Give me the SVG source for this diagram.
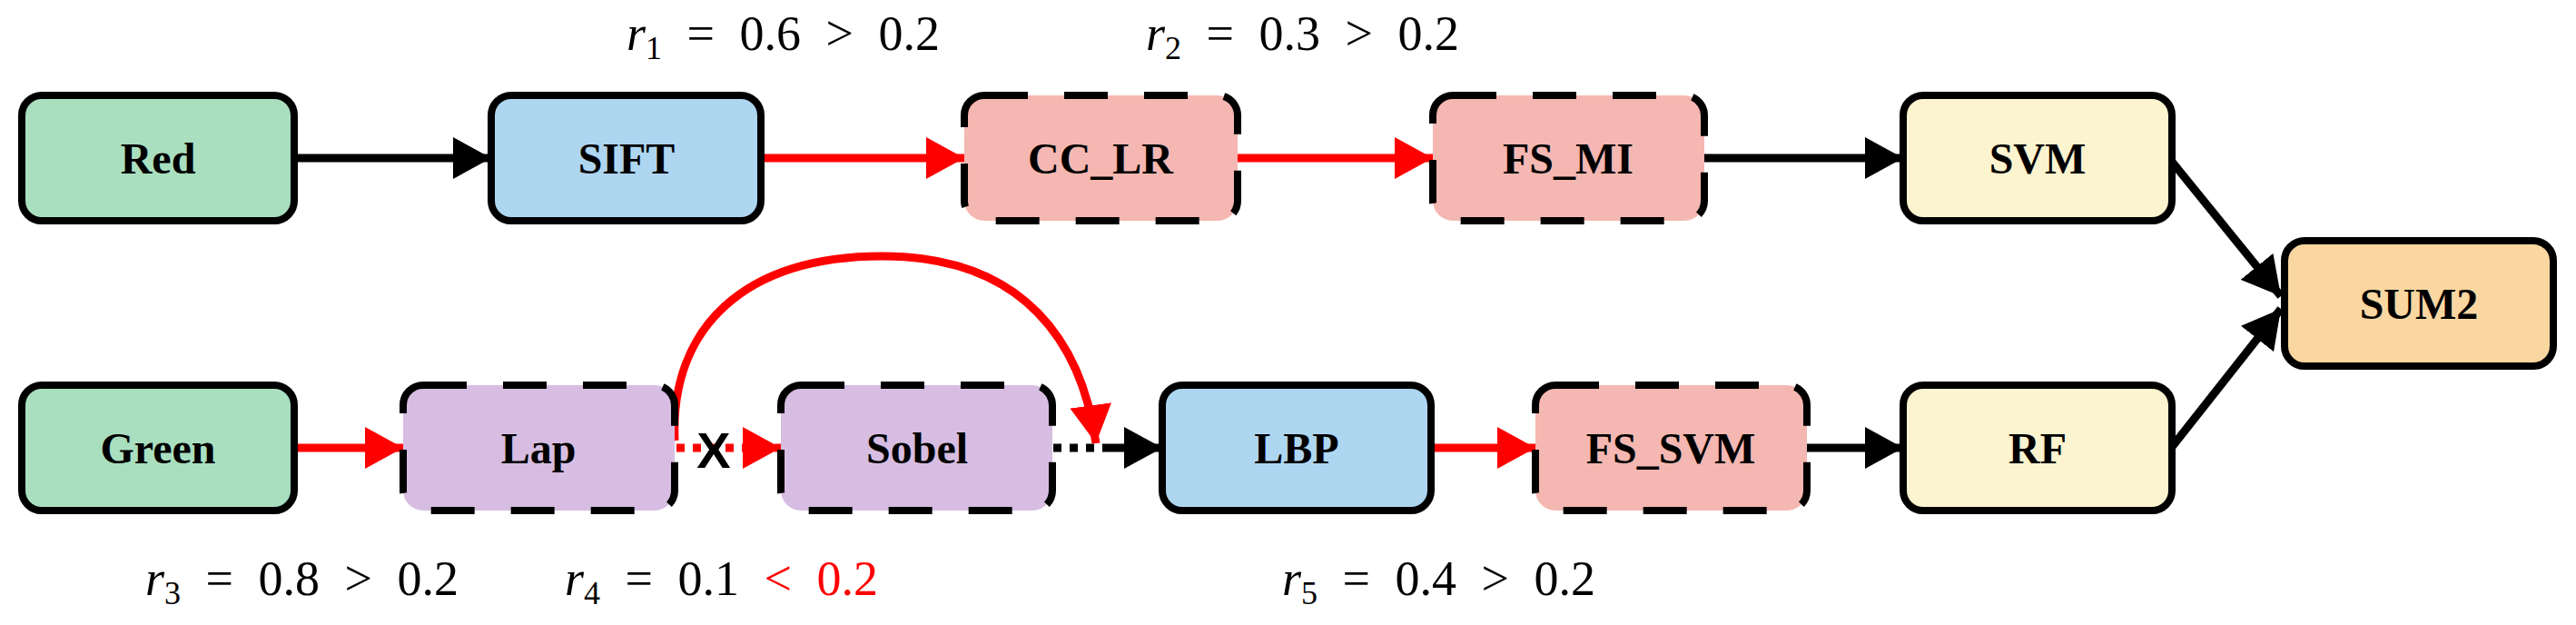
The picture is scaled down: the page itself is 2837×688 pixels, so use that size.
<svg xmlns="http://www.w3.org/2000/svg" width="2837" height="688" viewBox="0 0 2837 688">
<style>
.n{stroke:#000;stroke-width:8}
.d{stroke-dasharray:48 40}
.t{font-family:'Liberation Serif','Times New Roman',serif;font-weight:bold;font-size:48px;text-anchor:middle;dominant-baseline:central}
.e{font-family:'Liberation Serif','Times New Roman',serif;font-size:54px;word-spacing:14px}
.c{fill:none;stroke-width:9}
</style>
<defs>
<marker id="hb" markerUnits="userSpaceOnUse" markerWidth="42" markerHeight="46" refX="42" refY="23" orient="auto"><path d="M0,0L42,23L0,46Z" fill="#000"/></marker>
<marker id="hr" markerUnits="userSpaceOnUse" markerWidth="42" markerHeight="46" refX="42" refY="23" orient="auto"><path d="M0,0L42,23L0,46Z" fill="#f00"/></marker>
</defs>
<g id="connectors">
<line x1="326" y1="174" x2="541" y2="174" class="c" stroke="#000" marker-end="url(#hb)"/>
<line x1="838" y1="174" x2="1062" y2="174" class="c" stroke="#f00" marker-end="url(#hr)"/>
<line x1="1363" y1="174" x2="1578" y2="174" class="c" stroke="#f00" marker-end="url(#hr)"/>
<line x1="1877" y1="174" x2="2096" y2="174" class="c" stroke="#000" marker-end="url(#hb)"/>
<line x1="2392" y1="178" x2="2512" y2="326" class="c" stroke="#000" stroke-width="7" marker-end="url(#hb)"/>
<line x1="2392" y1="492" x2="2512" y2="340" class="c" stroke="#000" stroke-width="7" marker-end="url(#hb)"/>
<line x1="324" y1="493" x2="444" y2="493" class="c" stroke="#f00" marker-end="url(#hr)"/>
<line x1="745" y1="493" x2="860" y2="493" class="c" stroke="#f00" stroke-dasharray="9 9" marker-end="url(#hr)"/>
<line x1="1160" y1="493" x2="1280" y2="493" class="c" stroke="#000" stroke-dasharray="9 9 9 9 9 9 200" marker-end="url(#hb)"/>
<path d="M743,485 C738,360 820,282 972,282 C1130,282 1192,380 1207,488" class="c" stroke="#f00" stroke-width="7" marker-end="url(#hr)"/>
<line x1="1576" y1="493" x2="1691" y2="493" class="c" stroke="#f00" marker-end="url(#hr)"/>
<line x1="1990" y1="493" x2="2096" y2="493" class="c" stroke="#000" marker-end="url(#hb)"/>
<text x="786" y="515" font-family="Liberation Sans,Arial,sans-serif" font-weight="bold" font-size="56" text-anchor="middle">X</text>
</g>
<g id="Red"><rect x="24" y="105" width="300" height="138" rx="22" fill="#A9DFBF" class="n"/><text x="174" y="174" class="t">Red</text></g>
<g id="SIFT"><rect x="541" y="105" width="297" height="138" rx="22" fill="#AED6F1" class="n"/><text x="690" y="174" class="t">SIFT</text></g>
<g id="CC_LR"><rect x="1062" y="105" width="301" height="138" rx="22" fill="#F5B7B1" class="n d"/><text x="1212" y="174" class="t">CC_LR</text></g>
<g id="FS_MI"><rect x="1578" y="105" width="299" height="138" rx="22" fill="#F5B7B1" class="n d"/><text x="1727" y="174" class="t">FS_MI</text></g>
<g id="SVM"><rect x="2096" y="105" width="296" height="138" rx="22" fill="#FCF3CF" class="n"/><text x="2244" y="174" class="t">SVM</text></g>
<g id="SUM2"><rect x="2516" y="265" width="296" height="138" rx="22" fill="#FAD7A0" class="n"/><text x="2664" y="334" class="t">SUM2</text></g>
<g id="Green"><rect x="24" y="424" width="300" height="138" rx="22" fill="#A9DFBF" class="n"/><text x="174" y="493" class="t">Green</text></g>
<g id="Lap"><rect x="444" y="424" width="299" height="138" rx="22" fill="#D7BDE2" class="n d"/><text x="593" y="493" class="t">Lap</text></g>
<g id="Sobel"><rect x="860" y="424" width="299" height="138" rx="22" fill="#D7BDE2" class="n d"/><text x="1010" y="493" class="t">Sobel</text></g>
<g id="LBP"><rect x="1280" y="424" width="296" height="138" rx="22" fill="#AED6F1" class="n"/><text x="1428" y="493" class="t">LBP</text></g>
<g id="FS_SVM"><rect x="1691" y="424" width="299" height="138" rx="22" fill="#F5B7B1" class="n d"/><text x="1840" y="493" class="t">FS_SVM</text></g>
<g id="RF"><rect x="2096" y="424" width="296" height="138" rx="22" fill="#FCF3CF" class="n"/><text x="2244" y="493" class="t">RF</text></g>
<g id="labels">
<text x="690" y="55" class="e"><tspan font-style="italic">r</tspan><tspan font-size="36" dy="10">1</tspan><tspan dy="-10"> = 0.6 &gt; 0.2</tspan></text>
<text x="1262" y="55" class="e"><tspan font-style="italic">r</tspan><tspan font-size="36" dy="10">2</tspan><tspan dy="-10"> = 0.3 &gt; 0.2</tspan></text>
<text x="160" y="655" class="e"><tspan font-style="italic">r</tspan><tspan font-size="36" dy="10">3</tspan><tspan dy="-10"> = 0.8 &gt; 0.2</tspan></text>
<text x="622" y="655" class="e"><tspan font-style="italic">r</tspan><tspan font-size="36" dy="10">4</tspan><tspan dy="-10"> = 0.1 </tspan><tspan fill="#f00">&lt; 0.2</tspan></text>
<text x="1412" y="655" class="e"><tspan font-style="italic">r</tspan><tspan font-size="36" dy="10">5</tspan><tspan dy="-10"> = 0.4 &gt; 0.2</tspan></text>
</g>
</svg>
